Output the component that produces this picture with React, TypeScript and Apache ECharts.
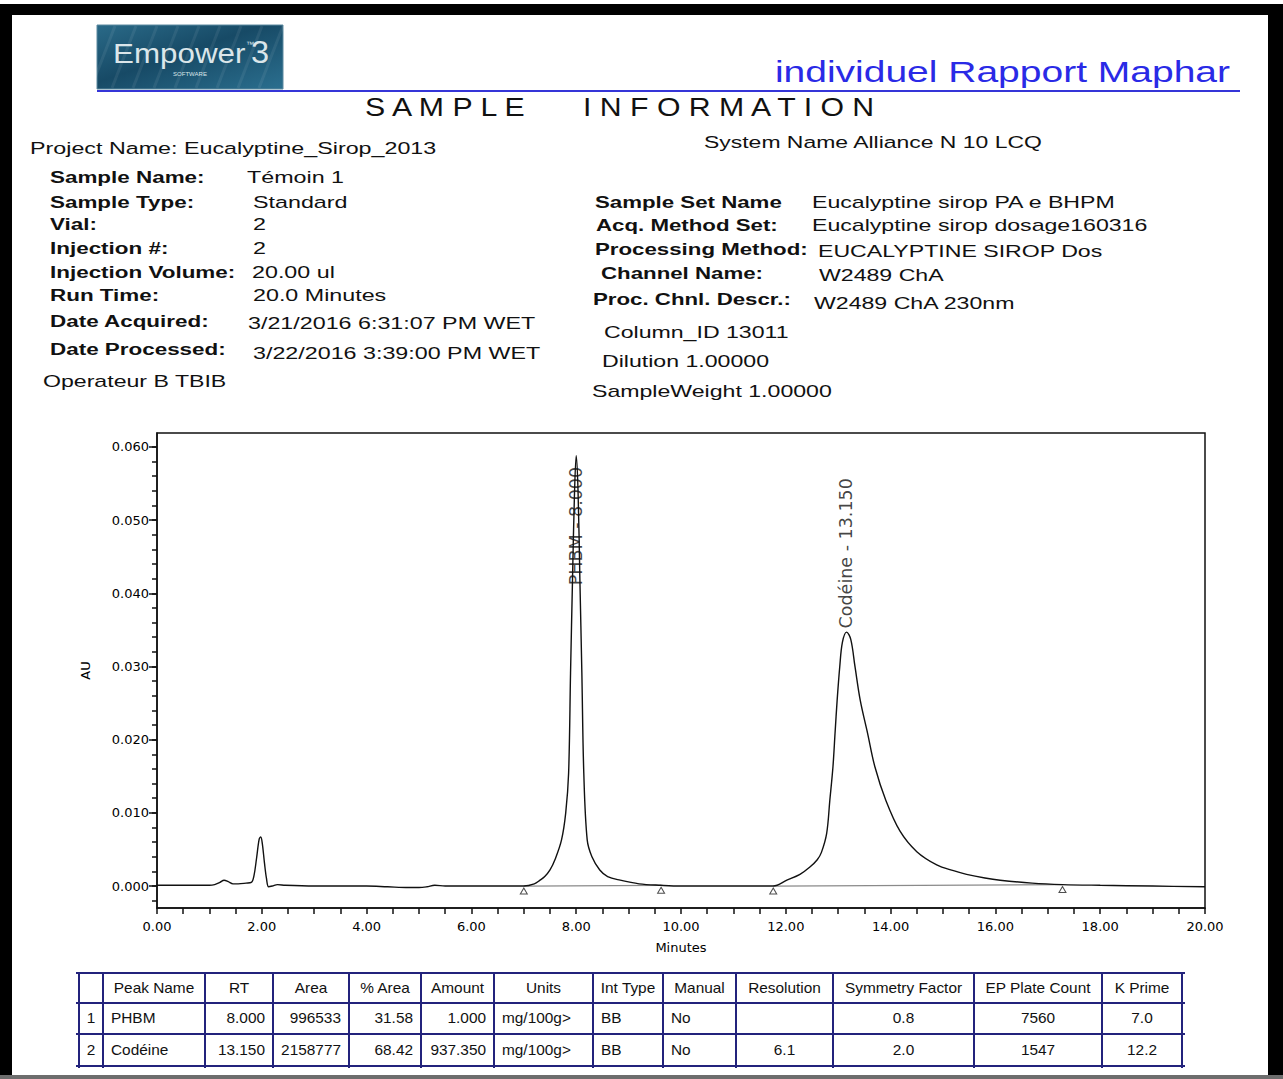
import React, { useEffect, useRef } from 'react';
import * as echarts from 'echarts';

// ---------- chromatogram trace (minutes, AU) ----------
const traceTime = [
  0.0, 0.4, 0.8, 1.0, 1.1, 1.2, 1.28, 1.36, 1.45, 1.55, 1.7, 1.8, 1.85, 1.9, 1.95, 1.98, 2.01, 2.05, 2.09, 2.13,
  2.2, 2.3, 2.45, 3.0, 3.5, 4.0, 4.4, 4.8, 5.0, 5.15, 5.3, 5.5, 6.0, 6.5, 7.0, 7.2, 7.31, 7.4, 7.5, 7.6,
  7.72, 7.8, 7.855, 7.892, 7.93, 7.965, 8.0, 8.035, 8.07, 8.108, 8.145, 8.21, 8.3, 8.45, 8.6, 8.84, 9.2, 9.62,
  10.0, 11.0, 11.76, 12.02, 12.27, 12.46, 12.6, 12.68, 12.78, 12.84, 12.9, 12.94, 12.98, 13.03, 13.08, 13.16,
  13.24, 13.32, 13.42, 13.56, 13.7, 13.91, 14.18, 14.5, 14.88, 15.2, 15.45, 15.8, 16.09, 16.7, 17.28, 18.0, 19.0, 20.0,
];
const traceAU = [
  0.0001, 0.0001, 0.0001, 0.0001, 0.0002, 0.0005, 0.0008, 0.0006, 0.0003, 0.0003, 0.0004, 0.0005, 0.0014, 0.0038,
  0.0064, 0.0067, 0.0058, 0.0032, 0.001, -0.0001, 0.0, 0.0002, 0.0001, 0.0, 0.0, 0.0, -0.0001, -0.0002, -0.0002,
  -0.0001, 0.0001, 0.0, 0.0, 0.0, 0.0, 0.0003, 0.0008, 0.0013, 0.0022, 0.0037, 0.0063, 0.01, 0.0154, 0.0291,
  0.042, 0.053, 0.0588, 0.054, 0.042, 0.0291, 0.0154, 0.0063, 0.004, 0.0022, 0.0013, 0.0008, 0.0003, 0.0001,
  0.0, 0.0, 0.0, 0.0008, 0.0016, 0.0026, 0.0036, 0.0046, 0.0072, 0.0117, 0.0163, 0.0209, 0.0254, 0.03, 0.0333,
  0.0347, 0.0337, 0.03, 0.0254, 0.0209, 0.0163, 0.0117, 0.0075, 0.0047, 0.0029, 0.0021, 0.0016, 0.0011, 0.0008,
  0.0004, 0.0002, 0.0001, 0.0, -0.0001,
];

// ---------- peaks ----------
const peakNames = ['PHBM', 'Codéine'];
const peakRT = [8.0, 13.15];
const peakLabelAU = [0.0411, 0.0352];
const peakArea = [996533, 2158777];
const peakPctArea = [31.58, 68.42];
const peakAmount = [1.0, 937.35];
const peakUnits = ['mg/100g>', 'mg/100g>'];
const peakIntType = ['BB', 'BB'];
const peakManual = ['No', 'No'];
const peakResolution = ['', '6.1'];
const peakSymmetry = [0.8, 2.0];
const peakPlateCount = [7560, 1547];
const peakKPrime = [7.0, 12.2];

// integration baseline start / end points
const baselineTime = [7.0, 9.62, 11.76, 17.28];
const baselineAU = [0.0, 0.0001, 0.0, 0.0002];

// ---------- axis ticks ----------
const xLabelValues = [0, 2, 4, 6, 8, 10, 12, 14, 16, 18, 20];
const yLabelValues = [0, 0.01, 0.02, 0.03, 0.04, 0.05, 0.06];
const yMinorTickValues = [
  -0.002, 0, 0.002, 0.004, 0.006, 0.008, 0.01, 0.012, 0.014, 0.016, 0.018, 0.02, 0.022, 0.024, 0.026, 0.028,
  0.03, 0.032, 0.034, 0.036, 0.038, 0.04, 0.042, 0.044, 0.046, 0.048, 0.05, 0.052, 0.054, 0.056, 0.058, 0.06,
];

// ---------- report texts ----------
const reportTitle = 'individuel Rapport Maphar';
const projectLine = 'Project Name: Eucalyptine_Sirop_2013';
const systemLine = 'System Name Alliance N 10 LCQ';
const leftLabels = ['Sample Name:', 'Sample Type:', 'Vial:', 'Injection #:', 'Injection Volume:', 'Run Time:', 'Date Acquired:', 'Date Processed:'];
const leftValues = ['Témoin 1', 'Standard', '2', '2', '20.00 ul', '20.0 Minutes', '3/21/2016 6:31:07 PM WET', '3/22/2016 3:39:00 PM WET'];
const operatorLine = 'Operateur B TBIB';
const rightLabels = ['Sample Set Name', 'Acq. Method Set:', 'Processing Method:', 'Channel Name:', 'Proc. Chnl. Descr.:'];
const rightValues = ['Eucalyptine sirop PA e BHPM', 'Eucalyptine sirop dosage160316', 'EUCALYPTINE SIROP Dos', 'W2489 ChA', 'W2489 ChA 230nm'];
const rightExtras = ['Column_ID 13011', 'Dilution 1.00000', 'SampleWeight 1.00000'];
const tableHeaders = ['', 'Peak Name', 'RT', 'Area', '% Area', 'Amount', 'Units', 'Int Type', 'Manual', 'Resolution', 'Symmetry Factor', 'EP Plate Count', 'K Prime'];

// ---------- layout (pixels) ----------
const W = 1283;
const H = 1079;
const FONT = '"Liberation Sans", Arial, sans-serif';
const AXFONT = '"DejaVu Sans", sans-serif';
const leftLabelY = [177, 202, 224, 248, 272, 295, 321, 349];
const leftValueX = [247, 253, 253, 253, 252, 253, 248, 253];
const leftValueY = [177, 202, 224, 248, 272, 295, 323, 353];
const rightLabelX = [595, 596, 595, 601, 593];
const rightLabelY = [202, 225, 249, 273, 299];
const rightValueX = [812, 812, 818, 819, 814];
const rightValueY = [202, 225, 251, 275, 303];
const rightExtraX = [604, 602, 592];
const rightExtraY = [332, 361, 391];
const colX = [79, 103, 205, 273, 349, 421, 494, 593, 663, 736, 833, 974, 1102, 1182];
const rowY = [973, 1003, 1034, 1066];
const colAlign = ['center', 'left', 'right', 'right', 'right', 'right', 'left', 'left', 'left', 'center', 'center', 'center', 'center'];

function txt(text: string, x: number, y: number, o: any = {}) {
  const align = o.align || 'left';
  return {
    type: 'text',
    x,
    y,
    scaleX: o.sx ?? 1.34,
    rotation: o.rotation || 0,
    silent: true,
    z: 10,
    style: {
      text,
      fontSize: o.size || 17,
      fontWeight: o.weight || 'normal',
      fontFamily: o.family || FONT,
      fill: o.fill || '#111',
      align,
      textAlign: align,
      verticalAlign: 'middle',
      textVerticalAlign: 'middle',
    },
  };
}

function buildGraphics() {
  const g: any[] = [];
  // page frame
  g.push({ type: 'rect', shape: { x: 0, y: 4, width: W, height: 11 }, style: { fill: '#000' }, silent: true });
  g.push({ type: 'rect', shape: { x: 0, y: 4, width: 12, height: H - 4 }, style: { fill: '#000' }, silent: true });
  g.push({ type: 'rect', shape: { x: 1268, y: 4, width: 15, height: H - 4 }, style: { fill: '#000' }, silent: true });
  g.push({ type: 'rect', shape: { x: 0, y: 1075, width: W, height: 4 }, style: { fill: '#6d6d6d' }, silent: true });

  // logo
  g.push({
    type: 'rect',
    shape: { x: 97, y: 25, width: 186, height: 64 },
    style: {
      fill: new echarts.graphic.LinearGradient(0, 0, 1, 1, [
        { offset: 0, color: '#2a6a88' },
        { offset: 0.45, color: '#174a66' },
        { offset: 1, color: '#2b6f8f' },
      ]),
      stroke: '#5d8aa0',
      lineWidth: 1,
    },
    silent: true,
  });
  for (let i = 0; i < 9; i++) {
    const x0 = 115 + i * 21;
    g.push({
      type: 'line',
      shape: { x1: x0, y1: 26, x2: x0 - 24, y2: 88 },
      style: { stroke: 'rgba(255,255,255,0.07)', lineWidth: 3 },
      silent: true,
    });
  }
  g.push(txt('Empower', 113, 53, { size: 28, fill: '#dbe6ea', sx: 1.12 }));
  g.push(txt('™', 246, 44, { size: 8, fill: '#dbe6ea', sx: 1 }));
  g.push(txt('3', 251, 52, { size: 31, fill: '#dbe6ea', sx: 1.05 }));
  g.push(txt('SOFTWARE', 190, 74, { size: 6, fill: '#dbe6ea', sx: 1, align: 'center' }));

  // title + rule
  g.push(txt(reportTitle, 1230, 72, { size: 30, fill: '#2a2ae6', align: 'right', sx: 1.3 }));
  g.push({ type: 'line', shape: { x1: 97, y1: 91, x2: 1240, y2: 91 }, style: { stroke: '#3535d8', lineWidth: 2 }, silent: true });
  g.push(txt('S A M P L E', 365, 107, { size: 25, sx: 1.21 }));
  g.push(txt('I N F O R M A T I O N', 583, 107, { size: 25, sx: 1.21 }));

  // sample information
  g.push(txt(projectLine, 30, 148, { sx: 1.37 }));
  leftLabels.forEach((s, i) => g.push(txt(s, 50, leftLabelY[i], { weight: 'bold', sx: 1.32 })));
  leftValues.forEach((s, i) => g.push(txt(s, leftValueX[i], leftValueY[i], { sx: 1.37 })));
  g.push(txt(operatorLine, 43, 381, { sx: 1.36 }));
  g.push(txt(systemLine, 704, 142, { sx: 1.35 }));
  rightLabels.forEach((s, i) => g.push(txt(s, rightLabelX[i], rightLabelY[i], { weight: 'bold', sx: 1.31 })));
  rightValues.forEach((s, i) => g.push(txt(s, rightValueX[i], rightValueY[i], { sx: 1.36 })));
  rightExtras.forEach((s, i) => g.push(txt(s, rightExtraX[i], rightExtraY[i], { sx: 1.36 })));

  // results table
  const tColor = '#23237c';
  rowY.forEach((y) =>
    g.push({ type: 'line', shape: { x1: colX[0] - 3, y1: y, x2: colX[colX.length - 1] + 3, y2: y }, style: { stroke: tColor, lineWidth: 2 }, silent: true })
  );
  colX.forEach((x) =>
    g.push({ type: 'line', shape: { x1: x, y1: rowY[0], x2: x, y2: rowY[rowY.length - 1] + 2 }, style: { stroke: tColor, lineWidth: 2 }, silent: true })
  );
  const cellMid = (c: number) => (colX[c] + colX[c + 1]) / 2;
  tableHeaders.forEach((h, c) => {
    if (h) g.push(txt(h, cellMid(c), (rowY[0] + rowY[1]) / 2, { size: 14, sx: 1.1, align: 'center' }));
  });
  const rows = peakNames.map((name, i) => [
    String(i + 1),
    name,
    peakRT[i].toFixed(3),
    String(peakArea[i]),
    peakPctArea[i].toFixed(2),
    peakAmount[i].toFixed(3),
    peakUnits[i],
    peakIntType[i],
    peakManual[i],
    peakResolution[i],
    peakSymmetry[i].toFixed(1),
    String(peakPlateCount[i]),
    peakKPrime[i].toFixed(1),
  ]);
  rows.forEach((r, ri) => {
    const y = (rowY[ri + 1] + rowY[ri + 2]) / 2;
    r.forEach((s, c) => {
      if (!s) return;
      const a = colAlign[c];
      const x = a === 'left' ? colX[c] + 8 : a === 'right' ? colX[c + 1] - 8 : cellMid(c);
      g.push(txt(s, x, y, { size: 14, sx: 1.1, align: a }));
    });
  });
  return g;
}

export default function App() {
  const ref = useRef<HTMLDivElement>(null);
  useEffect(() => {
    if (!ref.current) return;
    const chart = echarts.init(ref.current, undefined, { renderer: 'svg', width: W, height: H });
    const axisText = { fontFamily: AXFONT, fontSize: 13, color: '#000' };
    const yMin = -0.003;
    const yMax = 0.0619;
    const series: any[] = [
      {
        type: 'line',
        data: traceTime.map((t, i) => [t, traceAU[i]]),
        showSymbol: false,
        smooth: 0.35,
        lineStyle: { color: '#111', width: 1.4 },
        z: 4,
        silent: true,
      },
    ];
    for (let k = 0; k < baselineTime.length; k += 2) {
      series.push({
        type: 'line',
        data: [
          [baselineTime[k], baselineAU[k]],
          [baselineTime[k + 1], baselineAU[k + 1]],
        ],
        showSymbol: false,
        lineStyle: { color: '#8a8a8a', width: 1.2 },
        z: 3,
        silent: true,
      });
    }
    series.push({
      type: 'scatter',
      data: baselineTime.map((t, i) => [t, baselineAU[i]]),
      symbol: 'triangle',
      symbolSize: [7, 6],
      symbolOffset: [0, 5],
      itemStyle: { color: '#fff', borderColor: '#222', borderWidth: 1 },
      z: 5,
      silent: true,
    });
    series.push({
      type: 'scatter',
      data: peakRT.map((t, i) => ({ value: [t, peakLabelAU[i]], name: peakNames[i] })),
      symbolSize: 0,
      z: 2,
      silent: true,
      label: {
        show: true,
        position: 'top',
        distance: 0,
        rotate: 90,
        align: 'left',
        verticalAlign: 'middle',
        fontFamily: AXFONT,
        fontSize: 17.5,
        color: '#111',
        formatter: (p: any) => `${p.name} - ${p.value[0].toFixed(3)}`,
      },
    });

    chart.setOption({
      animation: false,
      backgroundColor: '#fff',
      grid: { left: 157, right: 78, top: 433, bottom: 171, show: true, borderColor: '#111', borderWidth: 1.5, containLabel: false },
      xAxis: {
        type: 'value',
        min: 0,
        max: 20,
        interval: 0.5,
        name: 'Minutes',
        nameLocation: 'middle',
        nameGap: 33,
        nameTextStyle: axisText,
        axisLine: { show: true, onZero: false, lineStyle: { color: '#111', width: 1.5 } },
        axisTick: { show: true, length: 6, lineStyle: { color: '#111', width: 1.5 } },
        axisLabel: { ...axisText, margin: 12, customValues: xLabelValues, formatter: (v: number) => v.toFixed(2) },
        splitLine: { show: false },
      },
      yAxis: [
        {
          type: 'value',
          min: yMin,
          max: yMax,
          name: 'AU',
          nameLocation: 'middle',
          nameRotate: 90,
          nameGap: 65,
          nameTextStyle: axisText,
          axisLine: { show: true, onZero: false, lineStyle: { color: '#111', width: 1.5 } },
          axisTick: { show: true, length: 5, customValues: yMinorTickValues, lineStyle: { color: '#111', width: 1.5 } },
          axisLabel: { show: false },
          splitLine: { show: false },
        },
        {
          type: 'value',
          min: yMin,
          max: yMax,
          position: 'left',
          offset: 0,
          axisLine: { show: false },
          axisTick: { show: true, length: 8, customValues: yLabelValues, lineStyle: { color: '#111', width: 1.5 } },
          axisLabel: { ...axisText, margin: 8, customValues: yLabelValues, formatter: (v: number) => v.toFixed(3) },
          splitLine: { show: false },
        },
      ],
      series,
      graphic: { elements: buildGraphics() },
    });
    return () => chart.dispose();
  }, []);
  return <div ref={ref} style={{ position: 'absolute', left: 0, top: 0, width: W, height: H, background: '#fff' }} />;
}
